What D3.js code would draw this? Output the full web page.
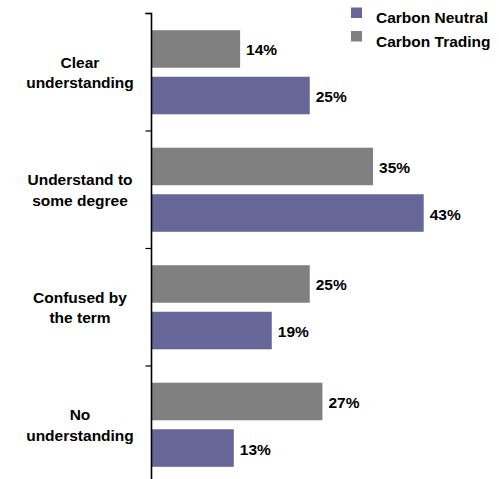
<!DOCTYPE html>
<html>
<head>
<meta charset="utf-8">
<script src="https://cdn.jsdelivr.net/npm/d3@7"></script>
<style>
  html, body { margin: 0; padding: 0; background: #fff; }
  svg { display: block; }
  text { font-family: "Liberation Sans", Arial, Helvetica, sans-serif; font-weight: bold; fill: #000; }
</style>
</head>
<body>
<div id="chart"></div>
<script>
// ---- data ----
const categories = ["Clear understanding", "Understand to some degree", "Confused by the term", "No understanding"];
const categoryLines = [["Clear", "understanding"], ["Understand to", "some degree"], ["Confused by", "the term"], ["No", "understanding"]];
const seriesNames = ["Carbon Trading", "Carbon Neutral"];
const carbonTrading = [14, 35, 25, 27];
const carbonNeutral = [25, 43, 19, 13];
const legendOrder = ["Carbon Neutral", "Carbon Trading"];
const colors = { "Carbon Trading": "#808080", "Carbon Neutral": "#666699" };

const W = 499, H = 479;
const svg = d3.select("#chart").append("svg").attr("width", W).attr("height", H);

const x = d3.scaleLinear().domain([0, 50]).range([151.5, 468]);
const y = d3.scaleBand().domain(categories).range([13.5, 483.5]).paddingInner(0).paddingOuter(0);
const yInner = d3.scaleBand().domain(seriesNames).range([0, y.bandwidth()]).paddingInner(0.1935).paddingOuter(0.359);

const valuesBySeries = { "Carbon Trading": carbonTrading, "Carbon Neutral": carbonNeutral };
const rows = [];
categories.forEach((c, i) => {
  seriesNames.forEach(s => rows.push({ cat: c, series: s, value: valuesBySeries[s][i] }));
});

// bars
svg.append("g").selectAll("rect").data(rows).join("rect")
  .attr("x", x(0))
  .attr("y", d => y(d.cat) + yInner(d.series))
  .attr("width", d => x(d.value) - x(0))
  .attr("height", yInner.bandwidth())
  .attr("fill", d => colors[d.series]);

// value labels
svg.append("g").selectAll("text").data(rows).join("text")
  .attr("x", d => x(d.value) + 6)
  .attr("y", d => y(d.cat) + yInner(d.series) + yInner.bandwidth() / 2 + 6.5)
  .attr("font-size", "15.5px")
  .text(d => d.value + "%");

// axis
const axis = d3.axisLeft(y).tickSize(6).tickFormat("").tickSizeOuter(6);
const ag = svg.append("g").attr("transform", `translate(${x(0)},0)`).call(axis);
ag.select(".domain").attr("stroke", "#000").attr("stroke-width", 1.6);
// ticks at band boundaries instead of centres
ag.selectAll(".tick").remove();
const boundaries = categories.map(c => y(c));
ag.selectAll("line.bt").data(boundaries).join("line")
  .attr("class", "bt")
  .attr("x1", -6).attr("x2", 0)
  .attr("y1", d => d).attr("y2", d => d)
  .attr("stroke", "#000").attr("stroke-width", 1.2);
ag.select(".domain").attr("d", `M-6,${y.range()[0]}H0V${y.range()[1]}`);

// category labels
const cl = svg.append("g").selectAll("text").data(categories).join("text")
  .attr("text-anchor", "middle")
  .attr("font-size", "15.5px");
cl.each(function(c, i) {
  const cy = y(c) + y.bandwidth() / 2;
  d3.select(this).selectAll("tspan").data(categoryLines[i]).join("tspan")
    .attr("x", 80)
    .attr("y", (d, j) => cy - 4.5 + j * 20.5)
    .text(d => d);
});

// legend
const lg = svg.append("g").selectAll("g").data(legendOrder).join("g")
  .attr("transform", (d, i) => `translate(351,${7.5 + i * 23.5})`);
lg.append("rect").attr("width", 11).attr("height", 10.5).attr("fill", d => colors[d]);
lg.append("text").attr("x", 25).attr("y", 15.8).attr("font-size", "15.5px").text(d => d);
</script>
</body>
</html>
